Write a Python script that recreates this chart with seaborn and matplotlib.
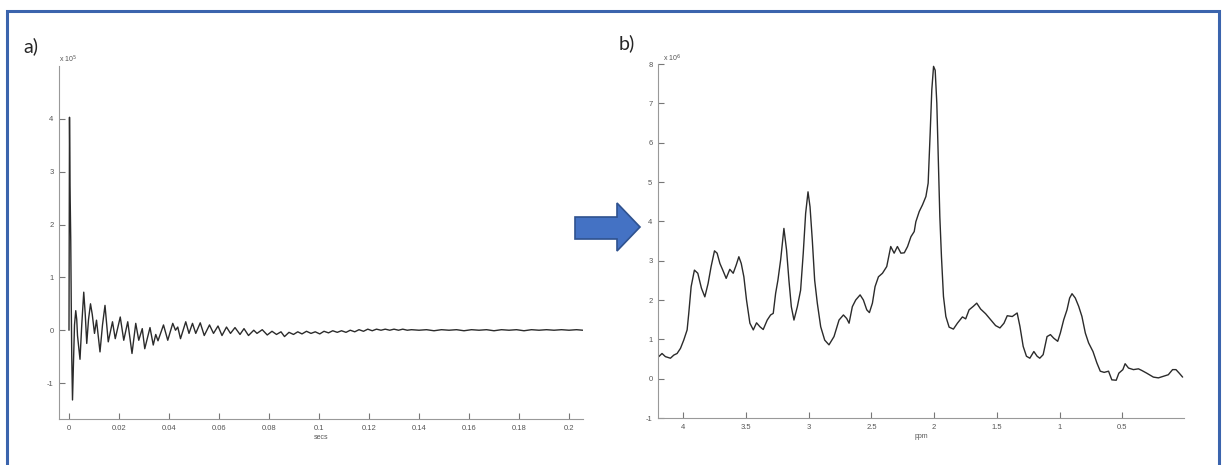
import numpy as np
import pandas as pd
import matplotlib
matplotlib.use('Agg')
import matplotlib.pyplot as plt
from matplotlib.patches import Rectangle, Polygon
import seaborn as sns

# a) free induction decay: time (s) and signal (x 10^5)
fid_t = [0.0000, 0.0002, 0.0004, 0.0007, 0.0009, 0.0011, 0.0014, 0.0018, 0.0022, 0.0027,
         0.0031, 0.0034, 0.0044, 0.0051, 0.0059, 0.0065, 0.0071, 0.0078, 0.0086, 0.0093,
         0.0102, 0.0110, 0.0124, 0.0134, 0.0144, 0.0157, 0.0174, 0.0185, 0.0205, 0.0219,
         0.0235, 0.0252, 0.0267, 0.0279, 0.0293, 0.0303, 0.0324, 0.0337, 0.0347, 0.0356,
         0.0378, 0.0395, 0.0415, 0.0426, 0.0435, 0.0446, 0.0467, 0.0480, 0.0494, 0.0507,
         0.0525, 0.0541, 0.0562, 0.0578, 0.0596, 0.0612, 0.0630, 0.0646, 0.0664, 0.0684,
         0.0700, 0.0718, 0.0739, 0.0752, 0.0773, 0.0793, 0.0812, 0.0830, 0.0848, 0.0862,
         0.0880, 0.0898, 0.0915, 0.0932, 0.0950, 0.0968, 0.0985, 0.1003, 0.1020, 0.1038,
         0.1055, 0.1073, 0.1090, 0.1108, 0.1125, 0.1143, 0.1160, 0.1178, 0.1195, 0.1213,
         0.1230, 0.1248, 0.1265, 0.1283, 0.1300, 0.1318, 0.1335, 0.1353, 0.1370, 0.1400,
         0.1430, 0.1460, 0.1490, 0.1520, 0.1550, 0.1580, 0.1610, 0.1640, 0.1670, 0.1700,
         0.1730, 0.1760, 0.1790, 0.1820, 0.1850, 0.1880, 0.1910, 0.1940, 0.1970, 0.2000,
         0.2030, 0.2055]
fid_v = [0.0, 4.03, 2.75, 1.7, 0.5, -0.5, -1.32, -0.6, 0.1, 0.37,
         0.2, -0.1, -0.55, 0.1, 0.72, 0.3, -0.25, 0.2, 0.5, 0.3,
         -0.06, 0.19, -0.41, 0.1, 0.47, -0.22, 0.16, -0.16, 0.25, -0.19,
         0.16, -0.44, 0.13, -0.19, 0.03, -0.35, 0.05, -0.28, -0.08, -0.2,
         0.1, -0.19, 0.13, 0.0, 0.06, -0.16, 0.16, -0.06, 0.13, -0.06,
         0.14, -0.1, 0.1, -0.06, 0.08, -0.1, 0.06, -0.06, 0.05, -0.08,
         0.03, -0.1, 0.0, -0.06, 0.01, -0.09, -0.02, -0.08, -0.03, -0.12,
         -0.04, -0.08, -0.03, -0.07, -0.02, -0.06, -0.03, -0.07, -0.02, -0.05,
         -0.01, -0.04, -0.01, -0.04, 0.0, -0.03, 0.01, -0.02, 0.02, -0.01,
         0.02, 0.0, 0.02, 0.0, 0.02, 0.0, 0.02, 0.0, 0.01, 0.0,
         0.01, -0.01, 0.01, 0.0, 0.01, -0.01, 0.01, 0.0, 0.01, -0.01,
         0.01, 0.0, 0.01, -0.01, 0.01, 0.0, 0.01, 0.0, 0.01, 0.0,
         0.01, 0.0]

# b) spectrum: chemical shift (ppm) and intensity (x 10^6)
ppm = [4.194, 4.168, 4.141, 4.101, 4.074, 4.048, 4.021, 3.995, 3.968, 3.955,
       3.936, 3.910, 3.883, 3.854, 3.827, 3.801, 3.777, 3.750, 3.729, 3.707,
       3.684, 3.657, 3.628, 3.601, 3.577, 3.556, 3.537, 3.516, 3.495, 3.468,
       3.441, 3.415, 3.388, 3.362, 3.330, 3.303, 3.282, 3.263, 3.245, 3.223,
       3.197, 3.176, 3.157, 3.138, 3.117, 3.090, 3.064, 3.043, 3.024, 3.005,
       2.989, 2.971, 2.952, 2.931, 2.904, 2.872, 2.838, 2.798, 2.758, 2.723,
       2.697, 2.678, 2.652, 2.625, 2.590, 2.564, 2.537, 2.516, 2.492, 2.471,
       2.444, 2.412, 2.378, 2.346, 2.319, 2.293, 2.265, 2.238, 2.212, 2.185,
       2.159, 2.146, 2.119, 2.093, 2.066, 2.048, 2.032, 2.019, 2.005, 1.992,
       1.979, 1.968, 1.955, 1.942, 1.926, 1.907, 1.881, 1.847, 1.815, 1.775,
       1.749, 1.722, 1.688, 1.661, 1.630, 1.590, 1.550, 1.511, 1.476, 1.444,
       1.418, 1.378, 1.339, 1.317, 1.291, 1.265, 1.238, 1.206, 1.180, 1.159,
       1.132, 1.101, 1.074, 1.048, 1.016, 0.995, 0.968, 0.942, 0.921, 0.902,
       0.876, 0.849, 0.823, 0.796, 0.770, 0.735, 0.704, 0.677, 0.646, 0.611,
       0.585, 0.550, 0.529, 0.497, 0.479, 0.452, 0.413, 0.373, 0.347, 0.307,
       0.254, 0.214, 0.175, 0.135, 0.101, 0.074, 0.048, 0.021]
intensity = [0.56, 0.64, 0.56, 0.52, 0.60, 0.64, 0.77, 0.98, 1.24, 1.66,
             2.34, 2.76, 2.68, 2.30, 2.08, 2.42, 2.85, 3.25, 3.19, 2.93,
             2.76, 2.55, 2.78, 2.68, 2.89, 3.10, 2.93, 2.59, 2.00, 1.41,
             1.24, 1.42, 1.32, 1.25, 1.49, 1.62, 1.66, 2.17, 2.50, 3.02,
             3.82, 3.27, 2.50, 1.83, 1.49, 1.83, 2.25, 3.19, 4.20, 4.75,
             4.37, 3.53, 2.50, 1.92, 1.32, 0.98, 0.86, 1.07, 1.49, 1.62,
             1.53, 1.41, 1.83, 2.00, 2.13, 2.00, 1.75, 1.68, 1.92, 2.34,
             2.59, 2.68, 2.85, 3.36, 3.19, 3.36, 3.19, 3.20, 3.36, 3.61,
             3.74, 3.99, 4.25, 4.42, 4.63, 4.97, 6.24, 7.34, 7.94, 7.84,
             7.00, 5.64, 4.12, 3.10, 2.09, 1.58, 1.31, 1.26, 1.41, 1.57,
             1.52, 1.75, 1.84, 1.92, 1.77, 1.65, 1.50, 1.35, 1.29, 1.41,
             1.60, 1.58, 1.67, 1.33, 0.82, 0.57, 0.52, 0.69, 0.57, 0.52,
             0.61, 1.07, 1.12, 1.03, 0.95, 1.16, 1.50, 1.75, 2.05, 2.16,
             2.05, 1.84, 1.58, 1.16, 0.91, 0.69, 0.40, 0.19, 0.16, 0.19,
             -0.03, -0.04, 0.14, 0.23, 0.38, 0.27, 0.23, 0.25, 0.21, 0.14,
             0.04, 0.02, 0.06, 0.10, 0.23, 0.23, 0.14, 0.04]

fid = pd.DataFrame({'secs': fid_t, 'signal': fid_v})
spec = pd.DataFrame({'ppm': ppm, 'intensity': intensity})

sns.set_style('white')
plt.rcParams['font.family'] = ['Liberation Sans', 'DejaVu Sans']
plt.rcParams['axes.unicode_minus'] = False

W, H = 1226, 465
fig = plt.figure(figsize=(W / 100, H / 100), dpi=100)

ax_a = fig.add_axes([59 / W, 1 - 419 / H, (583 - 59) / W, (419 - 66) / H])
ax_b = fig.add_axes([658 / W, 1 - 418 / H, (1184 - 658) / W, (418 - 64) / H])

line_col = '#2b2b2b'
sns.lineplot(data=fid, x='secs', y='signal', ax=ax_a, color=line_col,
             linewidth=1.0, estimator=None)
sns.lineplot(data=spec, x='ppm', y='intensity', ax=ax_b, color=line_col,
             linewidth=1.0, estimator=None)

# panel a axes
ax_a.set_xlim(-0.004, 0.2056)
ax_a.set_ylim(-1.68, 5)
ax_a.set_xticks([0, 0.02, 0.04, 0.06, 0.08, 0.1, 0.12, 0.14, 0.16, 0.18, 0.2])
ax_a.set_xticklabels(['0', '0.02', '0.04', '0.06', '0.08', '0.1', '0.12', '0.14', '0.16', '0.18', '0.2'])
ax_a.set_yticks([-1, 0, 1, 2, 3, 4])
ax_a.set_xlabel('secs', fontsize=5, color='#555555', labelpad=1.5)
ax_a.set_ylabel('')
ax_a.text(0.0, 1.004, r'x 10$^5$', transform=ax_a.transAxes, ha='left', va='bottom',
          fontsize=5, color='#555555')

# panel b axes (ppm runs right to left)
ax_b.set_xlim(4.2, 0.01)
ax_b.set_ylim(-1, 8)
ax_b.set_xticks([4, 3.5, 3, 2.5, 2, 1.5, 1, 0.5])
ax_b.set_xticklabels(['4', '3.5', '3', '2.5', '2', '1.5', '1', '0.5'])
ax_b.set_yticks([-1, 0, 1, 2, 3, 4, 5, 6, 7, 8])
ax_b.set_xlabel('ppm', fontsize=5, color='#555555', labelpad=1.5)
ax_b.set_ylabel('')
ax_b.text(0.01, 1.0, r'x 10$^6$', transform=ax_b.transAxes, ha='left', va='bottom',
          fontsize=5, color='#555555')

for ax in (ax_a, ax_b):
    sns.despine(ax=ax)
    ax.set_facecolor('white')
    for side in ('left', 'bottom'):
        ax.spines[side].set_color('#999999')
        ax.spines[side].set_linewidth(0.8)
    ax.tick_params(direction='in', length=4, width=0.8, color='#777777',
                   labelcolor='#555555', labelsize=5.5, pad=4,
                   left=True, bottom=True)

# panel letters
fig.text(23 / W, 1 - 46 / H, 'a)', fontsize=14, family='Lato', va='center', ha='left')
fig.text(619 / W, 1 - 43 / H, 'b)', fontsize=14, family='Lato', va='center', ha='left')

# arrow between panels
pts = [(575, 217), (617, 217), (617, 203), (640, 227), (617, 251), (617, 239), (575, 239)]
arrow = Polygon([(x / W, 1 - y / H) for x, y in pts], closed=True,
                transform=fig.transFigure, facecolor='#4472C4', edgecolor='#2F528F',
                linewidth=1.2)
fig.patches.append(arrow)

# blue frame round the whole figure
frame = Rectangle((7 / W, -0.02), (1219 - 7) / W, 1 - 11 / H + 0.02,
                  transform=fig.transFigure, fill=False, edgecolor='#3B64AD',
                  linewidth=2.2)
fig.patches.append(frame)

fig.savefig('out.png', dpi=100)
